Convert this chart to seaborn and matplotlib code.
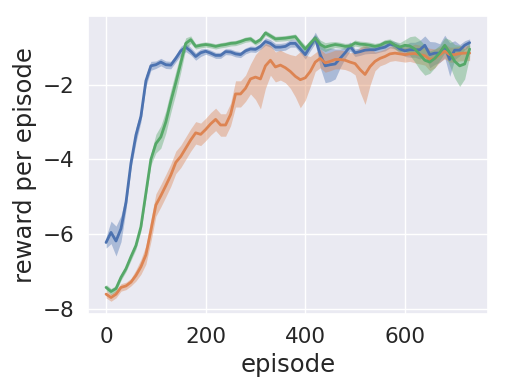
import matplotlib
matplotlib.use("Agg")
import matplotlib.pyplot as plt
import numpy as np
import pandas as pd
import seaborn as sns

# episodes sampled every 10 steps
episode = list(range(0, 740, 10))

blue_mean = [-6.22, -5.95, -6.18, -5.85, -5.15, -4.10, -3.35, -2.85, -1.90, -1.50,
             -1.47, -1.40, -1.47, -1.48, -1.30, -1.10, -1.00, -1.11, -1.25, -1.15,
             -1.11, -1.16, -1.22, -1.22, -1.12, -1.13, -1.18, -1.20, -1.10, -1.05,
             -1.06, -0.98, -0.85, -0.90, -1.00, -1.00, -0.98, -0.90, -0.90, -1.05,
             -1.20, -0.98, -0.75, -1.20, -1.50, -1.47, -1.45, -1.30, -1.15, -0.98,
             -1.15, -1.12, -1.08, -1.07, -1.07, -1.03, -1.00, -0.92, -0.95, -1.05,
             -1.10, -1.07, -1.07, -1.07, -0.95, -1.20, -1.16, -1.16, -0.98, -1.33,
             -1.08, -1.08, -0.95, -0.88]
blue_err = [0.15, 0.30, 0.40, 0.35, 0.20, 0.15, 0.20, 0.15, 0.15, 0.12,
            0.10, 0.10, 0.10, 0.10, 0.10, 0.12, 0.12, 0.10, 0.10, 0.10,
            0.08, 0.08, 0.08, 0.08, 0.08, 0.08, 0.08, 0.08, 0.08, 0.08,
            0.08, 0.08, 0.10, 0.10, 0.10, 0.10, 0.10, 0.10, 0.10, 0.10,
            0.12, 0.12, 0.15, 0.35, 0.45, 0.45, 0.40, 0.25, 0.15, 0.12,
            0.10, 0.10, 0.10, 0.10, 0.10, 0.10, 0.10, 0.10, 0.10, 0.12,
            0.15, 0.20, 0.20, 0.25, 0.25, 0.35, 0.30, 0.25, 0.30, 0.45,
            0.25, 0.15, 0.12, 0.10]

orange_mean = [-7.60, -7.69, -7.60, -7.42, -7.38, -7.28, -7.10, -6.87, -6.55, -5.90,
               -5.22, -4.97, -4.70, -4.42, -4.08, -3.92, -3.70, -3.48, -3.29, -3.33,
               -3.20, -3.05, -2.93, -3.08, -3.08, -2.80, -2.25, -2.25, -2.10, -1.85,
               -1.80, -1.85, -1.50, -1.35, -1.53, -1.48, -1.55, -1.65, -1.78, -1.87,
               -1.82, -1.65, -1.40, -1.30, -1.42, -1.38, -1.33, -1.33, -1.35, -1.40,
               -1.44, -1.60, -1.73, -1.52, -1.38, -1.30, -1.25, -1.18, -1.16, -1.18,
               -1.20, -1.18, -1.17, -1.20, -1.23, -1.33, -1.30, -1.20, -1.11, -1.20,
               -1.20, -1.17, -1.16, -1.16]
orange_err = [0.10, 0.10, 0.10, 0.10, 0.10, 0.10, 0.15, 0.20, 0.25, 0.30,
              0.30, 0.30, 0.30, 0.30, 0.30, 0.30, 0.30, 0.30, 0.30, 0.30,
              0.30, 0.30, 0.30, 0.30, 0.30, 0.30, 0.35, 0.35, 0.35, 0.40,
              0.60, 0.80, 0.60, 0.40, 0.40, 0.40, 0.40, 0.45, 0.55, 0.75,
              0.60, 0.40, 0.25, 0.25, 0.25, 0.25, 0.25, 0.25, 0.25, 0.25,
              0.30, 0.60, 0.80, 0.50, 0.25, 0.20, 0.20, 0.20, 0.20, 0.20,
              0.20, 0.20, 0.25, 0.25, 0.25, 0.30, 0.25, 0.20, 0.20, 0.20,
              0.20, 0.20, 0.20, 0.20]

green_mean = [-7.42, -7.53, -7.45, -7.15, -6.92, -6.60, -6.30, -5.80, -4.90, -4.00,
              -3.58, -3.40, -3.00, -2.45, -1.95, -1.42, -0.90, -0.80, -0.98, -0.95,
              -0.93, -0.95, -0.98, -0.95, -0.93, -0.90, -0.89, -0.85, -0.80, -0.78,
              -0.88, -0.80, -0.62, -0.70, -0.78, -0.77, -0.76, -0.74, -0.72, -0.89,
              -1.05, -0.90, -0.76, -0.93, -1.00, -0.96, -0.93, -0.95, -0.98, -0.97,
              -0.89, -0.92, -0.93, -0.95, -0.98, -0.95, -0.88, -0.86, -0.95, -1.00,
              -0.95, -0.97, -1.05, -1.20, -1.35, -1.40, -1.30, -1.15, -0.95, -1.15,
              -1.38, -1.50, -1.45, -1.05]
green_err = [0.08, 0.08, 0.08, 0.08, 0.08, 0.10, 0.10, 0.12, 0.15, 0.15,
             0.25, 0.30, 0.30, 0.30, 0.30, 0.25, 0.15, 0.10, 0.07, 0.07,
             0.07, 0.07, 0.07, 0.07, 0.07, 0.07, 0.07, 0.07, 0.07, 0.07,
             0.07, 0.07, 0.07, 0.07, 0.07, 0.07, 0.07, 0.07, 0.07, 0.08,
             0.10, 0.10, 0.10, 0.12, 0.12, 0.10, 0.08, 0.08, 0.08, 0.08,
             0.08, 0.08, 0.08, 0.08, 0.08, 0.08, 0.08, 0.08, 0.10, 0.12,
             0.15, 0.25, 0.35, 0.40, 0.40, 0.30, 0.25, 0.20, 0.20, 0.35,
             0.45, 0.55, 0.40, 0.20]

sns.set_theme(style="darkgrid")
plt.rcParams["font.family"] = ["DejaVu Sans"]

series = [
    ("blue", blue_mean, blue_err),
    ("orange", orange_mean, orange_err),
    ("green", green_mean, green_err),
]
palette = sns.color_palette("deep")
colors = {"blue": palette[0], "orange": palette[1], "green": palette[2]}

df = pd.concat([pd.DataFrame({"episode": episode, "reward": m, "err": e, "run": name})
                for name, m, e in series], ignore_index=True)

fig = plt.figure(figsize=(5.05, 3.92), dpi=100)
ax = fig.add_axes([0.174, 0.199, 0.792, 0.76])

for name, m, e in series:
    lo = np.array(m) - np.array(e)
    hi = np.array(m) + np.array(e)
    ax.fill_between(episode, lo, hi, color=colors[name], alpha=0.4, linewidth=0)

sns.lineplot(data=df, x="episode", y="reward", hue="run", palette=colors,
             linewidth=2, legend=False, ax=ax)

ax.set_xlim(-36.5, 766.5)
ax.set_ylim(-8.13, -0.17)
ax.set_xticks([0, 200, 400, 600])
ax.set_yticks([-8, -6, -4, -2])
ax.tick_params(labelsize=15.5)
ax.set_xlabel("episode", fontsize=17.5)
ax.set_ylabel("reward per episode", fontsize=17.5)

fig.savefig("out.png", dpi=100)
